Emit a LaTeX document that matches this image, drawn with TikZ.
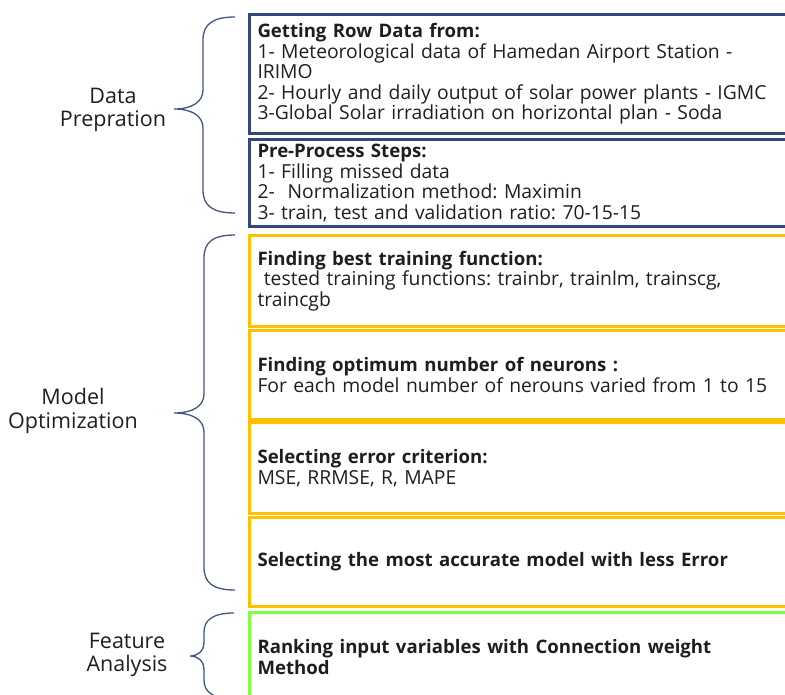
\documentclass[tikz,border=0pt]{standalone}
\usepackage{fontspec}
\setmainfont{Open Sans}
\frenchspacing
\definecolor{navy}{HTML}{33477A}
\definecolor{bracec}{HTML}{42557F}
\definecolor{gold}{HTML}{FFC000}
\definecolor{lime}{HTML}{7FFF3F}
\definecolor{ink}{HTML}{1E1E1E}
\newcommand{\hd}[1]{{\fontsize{18.6}{20.5}\selectfont\bfseries #1}}
\begin{document}
\begin{tikzpicture}[x=1pt,y=-1pt,
  box/.style={draw, line width=3pt, anchor=north west, minimum width=560pt,
    text width=544pt, inner xsep=8pt, align=left, text=ink,
    font=\fontsize{19.3}{20.5}\selectfont},
  navybox/.style={box, draw=navy},
  goldbox/.style={box, draw=gold},
  limebox/.style={box, draw=lime},
  lbl/.style={align=center, text=ink, font=\fontsize{21.5}{23.5}\selectfont},
  brace/.style={draw=bracec, line width=1.3pt}]
\useasboundingbox (0,0) rectangle (785,695);
\clip (0,0) rectangle (785,695);

\node[navybox, minimum height=119pt] (b1) at (248,13)
  {\hd{Getting Row Data from:}\\1- Meteorological data of Hamedan Airport Station -\\IRIMO\\2- Hourly and daily output of solar power plants - IGMC\\3-Global Solar irradiation on horizontal plan - Soda};
\node[navybox, minimum height=87pt] (b2) at (248,138)
  {\hd{Pre-Process Steps:}\\1- Filling missed data\\2-\ \ Normalization method: Maximin\\3- train, test and validation ratio: 70-15-15};
\node[goldbox, minimum height=91pt] (b3) at (248,234)
  {\hd{Finding best training function:}\\\ tested training functions: trainbr, trainlm, trainscg,\\traincgb};
\node[goldbox, minimum height=89pt] (b4) at (248,329)
  {\hd{Finding optimum number of neurons :}\\For each model number of nerouns varied from 1 to 15};
\node[goldbox, minimum height=91pt] (b5) at (248,421)
  {\hd{Selecting error criterion:}\\MSE, RRMSE, R, MAPE};
\node[goldbox, minimum height=89pt] (b6) at (248,516)
  {\hd{Selecting the most accurate model with less Error}};
\node[limebox, minimum height=89pt] (b7) at (248,611)
  {\hd{Ranking input variables with Connection weight}\\\hd{Method}};

\node[lbl] (l1) at (113,110) {Data\\Prepration};
\node[lbl] (l2) at (73,411) {Model\\Optimization};
\node[lbl] (l3) at (127,655) {Feature\\Analysis};

\draw[brace] (235,17) .. controls (213,17) and (203,24) .. (203,40) -- (203,90)
  .. controls (203,102) and (192,109) .. (174,109)
  .. controls (192,109) and (203,116) .. (203,128) -- (203,190)
  .. controls (203,206) and (213,213) .. (235,213);
\draw[brace] (235,235) .. controls (213,235) and (204,242) .. (204,258) -- (204,394)
  .. controls (204,406) and (193,413) .. (174,413)
  .. controls (193,413) and (204,420) .. (204,432) -- (204,567)
  .. controls (204,583) and (213,590) .. (235,590);
\draw[brace] (234,613) .. controls (213,613) and (204,620) .. (204,632) -- (204,642)
  .. controls (204,651) and (198,656) .. (190,656)
  .. controls (198,656) and (204,661) .. (204,670) -- (204,680)
  .. controls (204,692) and (213,699) .. (234,699);
\end{tikzpicture}
\end{document}
